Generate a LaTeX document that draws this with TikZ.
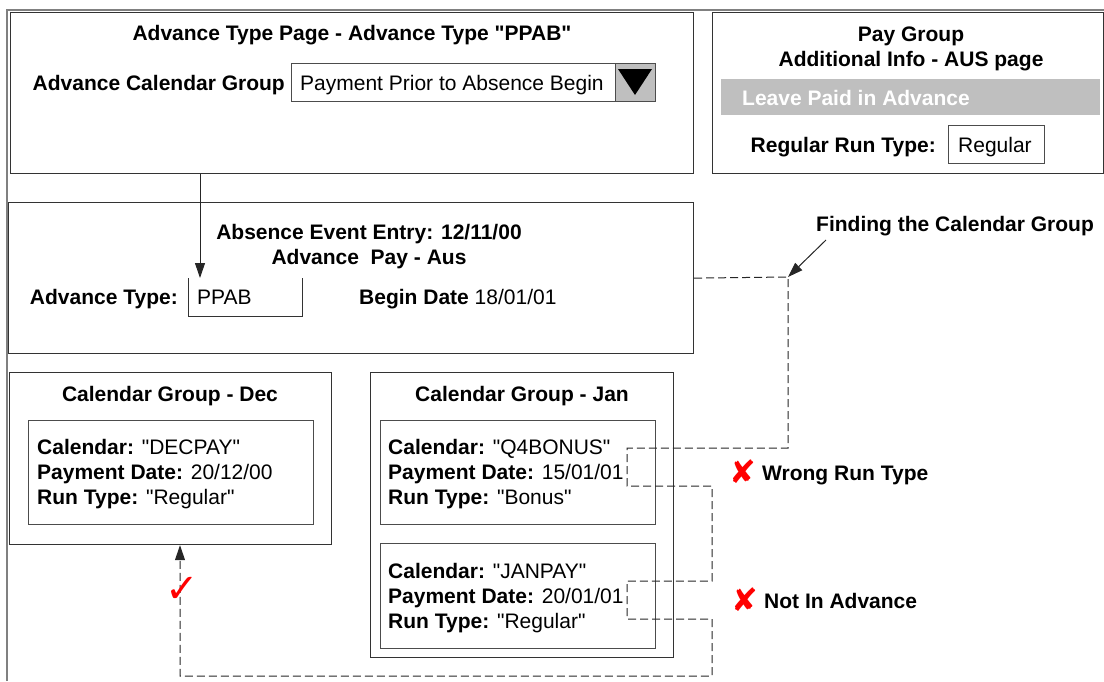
\documentclass[tikz,border=0pt]{standalone}
\usepackage{fontspec}
\setmainfont{Liberation Sans}
\newfontfamily\simboli{DejaVu Sans}
\usepackage{tikz}
\usetikzlibrary{positioning,arrows.meta}

\begin{document}
\begin{tikzpicture}[x=1pt, y=-1pt,
    every node/.style={font=\fontsize{21}{25}\selectfont, inner sep=0pt},
    pannello/.style={draw=black!80, line width=1.2pt, anchor=north west},
    riquadro/.style={draw=black!70, line width=1.1pt, anchor=north west},
    titolo/.style={font=\fontsize{21}{25}\selectfont\bfseries, align=center, anchor=base},
    voce/.style={anchor=base west},
    elenco/.style={anchor=base west, align=left},
    traccia/.style={draw=black!85, line width=1pt, dash pattern=on 8pt off 4pt},
    punta/.style={-{Triangle[length=15pt, width=10pt]}},
    esito/.style={text=red, font=\fontsize{32}{32}\selectfont\simboli}]
    \useasboundingbox (0,0) rectangle (1104,681);

    % cornice grigia della pagina
    \draw[black!50, line width=2.5pt] (7,681) -- (7,10) -- (1104,10);

    % pagina del tipo di anticipo (con menu a tendina)
    \node[pannello, minimum width=683pt, minimum height=161pt] (tipopag) at (10,12) {};
    \node[titolo] (titolotipo) at (352,40) {Advance Type Page - Advance Type \textquotedbl PPAB\textquotedbl};
    \node[voce, anchor=base east] (etcal) at (285,90) {\textbf{Advance Calendar Group}};
    \node[riquadro, minimum width=364pt, minimum height=38pt] (tendina) at (291,63) {};
    \node[voce] (valtendina) at (300,90) {Payment Prior to Absence Begin};
    \node[riquadro, fill=black!25, minimum width=40pt, minimum height=38pt] (pulsante) at (615,63) {};
    \fill (pulsante.north west) ++(3,6) -- ++(34,0) -- ++(-17,26) -- cycle;

    % pay group, info aggiuntive AUS
    \node[pannello, minimum width=391pt, minimum height=161pt] (paygroup) at (712,12) {};
    \node[titolo] (titolopay) at (911,66) {Pay Group\\Additional Info - AUS page};
    \node[anchor=north west, fill=black!25, minimum width=379pt, minimum height=36pt] (barra) at (721,79) {};
    \node[voce, text=white] (anticipo) at (742,105) {\textbf{Leave Paid in Advance}};
    \node[voce, anchor=base east] (etrun) at (936,152) {\textbf{Regular Run Type:}};
    \node[riquadro, minimum width=96pt, minimum height=38pt] (camporeg) at (948,125) {};
    \node[voce] (valreg) at (958,152) {Regular};

    % inserimento evento di assenza
    \node[pannello, minimum width=685pt, minimum height=151pt] (assenza) at (8,202) {};
    \node[titolo] (titoloass) at (369,264) {Absence Event Entry: 12/11/00\\Advance\ \ Pay - Aus};
    \node[voce, anchor=base east] (ettipo) at (178,304) {\textbf{Advance Type:}};
    \node[anchor=north west, minimum width=114pt, minimum height=38pt] (campoppab) at (188,278) {};
    \draw[black!80, line width=1pt] (campoppab.north west) |- (campoppab.south east) -- (campoppab.north east);
    \node[voce] (valppab) at (197,304) {PPAB};
    \node[voce] (inizio) at (359,304) {\textbf{Begin Date} 18/01/01};

    % gruppo calendari di dicembre
    \node[pannello, minimum width=322pt, minimum height=172pt] (dicembre) at (9,372) {};
    \node[titolo] (titolodic) at (170,401) {Calendar Group - Dec};
    \node[riquadro, minimum width=285pt, minimum height=104pt] (caldec) at (28,420) {};
    \node[elenco] (testodec) at (37,504)
        {\textbf{Calendar:} \textquotedbl DECPAY\textquotedbl\\\textbf{Payment Date:} 20/12/00\\\textbf{Run Type:} \textquotedbl Regular\textquotedbl};

    % gruppo calendari di gennaio
    \node[pannello, minimum width=303pt, minimum height=285pt] (gennaio) at (370,372) {};
    \node[titolo] (titologen) at (522,401) {Calendar Group - Jan};
    \node[riquadro, minimum width=275pt, minimum height=104pt] (calq4) at (380,420) {};
    \node[elenco] (testoq4) at (388,504)
        {\textbf{Calendar:} \textquotedbl Q4BONUS\textquotedbl\\\textbf{Payment Date:} 15/01/01\\\textbf{Run Type:} \textquotedbl Bonus\textquotedbl};
    \node[riquadro, minimum width=275pt, minimum height=105pt] (caljan) at (380,543) {};
    \node[elenco] (testojan) at (388,628)
        {\textbf{Calendar:} \textquotedbl JANPAY\textquotedbl\\\textbf{Payment Date:} 20/01/01\\\textbf{Run Type:} \textquotedbl Regular\textquotedbl};

    % percorso di ricerca del gruppo
    \coordinate (snodo) at (788,277);
    \coordinate (giro) at (712,0);
    \coordinate (q4a) at (627,448);
    \coordinate (q4b) at (627,486);
    \coordinate (jana) at (627,581);
    \coordinate (janb) at (627,619);
    \coordinate (ritorno) at (180,676);
    \draw[black!85, line width=1pt, punta] (tipopag.south -| 200,0) -- (campoppab.north -| 200,0);
    \draw[traccia, punta] (assenza.east) -- (snodo) |- (q4a) -- (q4b) -| (giro |- jana)
        -- (jana) -- (janb) -| (giro |- ritorno) -- (ritorno) -- (ritorno |- dicembre.south);

    % etichette ed esiti
    \node[voce] (trova) at (816,231) {\textbf{Finding the Calendar Group}};
    \coordinate (coda) at (826,240);
    \draw[black!85, line width=1pt, punta] (coda) -- (snodo);
    \node[esito, font=\fontsize{40}{40}\selectfont\simboli] (esitodec) at (182,590) {✓};
    \node[esito] (esitoq4) at (743,472) {✘};
    \node[voce] (tiposbagliato) at (762,480) {\textbf{Wrong Run Type}};
    \node[esito] (esitojan) at (745,600) {✘};
    \node[voce] (nonanticipo) at (764,608) {\textbf{Not In Advance}};
\end{tikzpicture}
\end{document}
